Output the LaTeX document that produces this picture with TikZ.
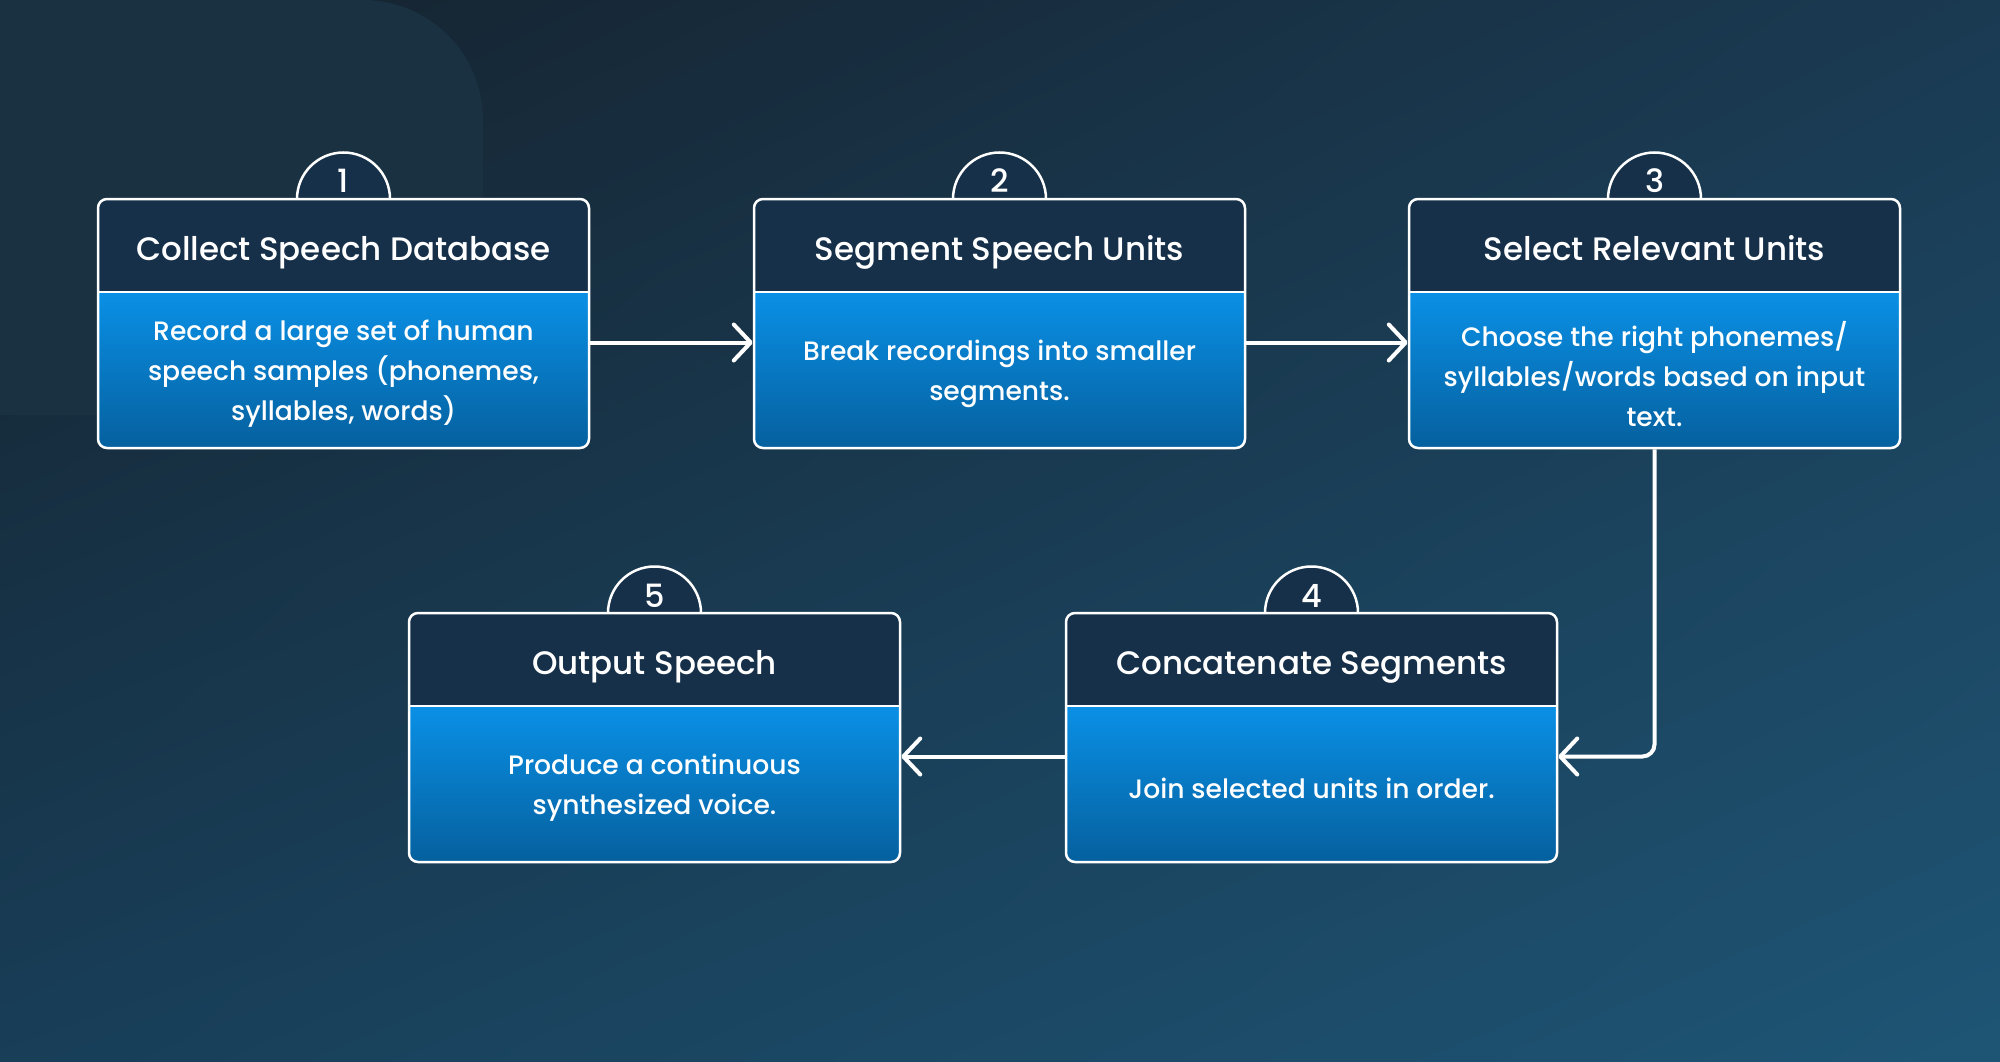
\documentclass[tikz,border=0pt]{standalone}
\usepackage{fontspec}
\IfFontExistsTF{Poppins Medium}{\setmainfont{Poppins Medium}}{\setmainfont{Poppins}[UprightFeatures={FakeBold=0.6}]}
\usetikzlibrary{arrows.meta,calc,shadings}
\definecolor{headcol}{HTML}{16304A}
\definecolor{bodytop}{HTML}{0A90E6}
\definecolor{bodybot}{HTML}{05609E}
\definecolor{bgUL}{HTML}{15212C}
\definecolor{bgUR}{HTML}{1A3A52}
\definecolor{bgLL}{HTML}{183E58}
\definecolor{bgLR}{HTML}{1E5575}
\definecolor{blobcol}{HTML}{1A3142}
\tikzset{
  titletxt/.style={text=white,font=\fontsize{32.5}{40}\selectfont,inner sep=0pt},
  numtxt/.style={text=white,font=\fontsize{32}{38}\selectfont,inner sep=0pt},
  bodytxt/.style={text=white,font=\fontsize{26.6}{40}\selectfont,align=center,inner sep=0pt},
  badge/.style={circle,draw=white,line width=2.5pt,fill=headcol,minimum size=93pt,inner sep=0pt},
  boxframe/.style={draw=white,line width=2.5pt,rounded corners=9pt,minimum width=491pt,minimum height=249pt,inner sep=0pt},
  arr/.style={draw=white,line width=4pt,-{Straight Barb[length=17pt,width=36pt,round]}}
}
\newcommand\flowstep[6]{%
  \node[badge] (#1c) at (#2+245.5,#3) {};
  \node[numtxt,anchor=base] (#1n) at (#2+245.5,#3-6) {#4};
  \begin{scope}
    \clip[rounded corners=9pt] (#2,#3) rectangle (#2+491,#3+249);
    \fill[headcol] (#2,#3) rectangle (#2+491,#3+93);
    \shade[top color=bodytop,bottom color=bodybot] (#2,#3+93) rectangle (#2+491,#3+249);
  \end{scope}
  \draw[white,line width=2.5pt] (#2,#3+93) -- (#2+491,#3+93);
  \node[boxframe] (#1) at (#2+245.5,#3+124.5) {};
  \node[titletxt,anchor=base] (#1t) at (#2+245.5,#3+61.5) {#5};
  \node[bodytxt] (#1d) at (#2+245.5,#3+175) {#6};
}
\begin{document}
\begin{tikzpicture}[x=1pt,y=-1pt]
\useasboundingbox (0,0) rectangle (2000,1062);
\shade[upper left=bgUL,upper right=bgUR,lower left=bgLL,lower right=bgLR] (0,0) rectangle (2000,1062);
\fill[blobcol] (0,0) -- (363,0) arc[start angle=-90,end angle=0,radius=120] -- (483,415) -- (0,415) -- cycle;

\flowstep{b1}{98}{199}{1}{Collect Speech Database}{Record a large set of human\\speech samples (phonemes,\\syllables, words)}
\flowstep{b2}{754}{199}{2}{Segment Speech Units}{Break recordings into smaller\\segments.}
\flowstep{b3}{1409}{199}{3}{Select Relevant Units}{Choose the right phonemes/\\syllables/words based on input\\text.}
\flowstep{b4}{1066}{613}{4}{Concatenate Segments}{Join selected units in order.}
\flowstep{b5}{409}{613}{5}{Output Speech}{Produce a continuous\\synthesized voice.}

\draw[arr] ([yshift=-19pt]b1.east) -- ([yshift=-19pt]b2.west);
\draw[arr] ([yshift=-19pt]b2.east) -- ([yshift=-19pt]b3.west);
\draw[arr,rounded corners=12pt] (b3.south) |- ([yshift=-19pt]b4.east);
\draw[arr] ([yshift=-19pt]b4.west) -- ([yshift=-19pt]b5.east);
\end{tikzpicture}
\end{document}
